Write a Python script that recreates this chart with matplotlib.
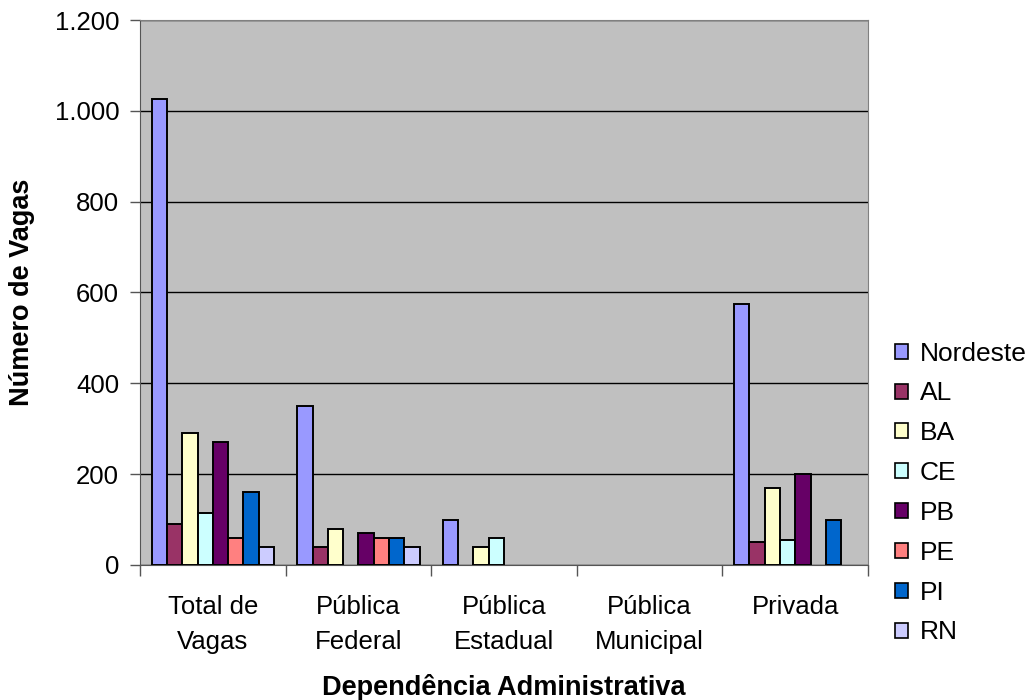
import numpy as np
import matplotlib.pyplot as plt
from matplotlib.ticker import FuncFormatter

plt.rcParams['font.family'] = ['Liberation Sans', 'DejaVu Sans']

categories = ['Total de\nVagas', 'Pública\nFederal', 'Pública\nEstadual', 'Pública\nMunicipal', 'Privada']
series_names = ['Nordeste', 'AL', 'BA', 'CE', 'PB', 'PE', 'PI', 'RN']
nordeste = [1025, 350, 100, 0, 575]
al = [90, 40, 0, 0, 50]
ba = [290, 80, 40, 0, 170]
ce = [115, 0, 60, 0, 55]
pb = [270, 70, 0, 0, 200]
pe = [60, 60, 0, 0, 0]
pi = [160, 60, 0, 0, 100]
rn = [40, 40, 0, 0, 0]
series = [nordeste, al, ba, ce, pb, pe, pi, rn]
colors = ['#9999FF', '#993366', '#FFFFCC', '#CCFFFF', '#660066', '#FF8080', '#0066CC', '#CCCCFF']

fig = plt.figure(figsize=(10.34, 7), dpi=100)
ax = fig.add_axes([0.1354, 0.1929, 0.7041, 0.7785])
ax.set_facecolor('#C0C0C0')

x = np.arange(len(categories))
n = len(series)
w = 0.84 / n
for i, (vals, c, name) in enumerate(zip(series, colors, series_names)):
    pos = x - 0.42 + w * (i + 0.5)
    v = np.array(vals, dtype=float)
    mask = v > 0
    ax.bar(pos[mask], v[mask], width=w, color=c, edgecolor='black', linewidth=1.4, zorder=3)
    # legend proxy
    ax.bar([np.nan], [np.nan], color=c, edgecolor='black', linewidth=1.2, label=name)

ax.set_xlim(-0.5, len(categories) - 0.5)
ax.set_ylim(0, 1200)
ax.set_yticks(np.arange(0, 1201, 200))
ax.yaxis.set_major_formatter(FuncFormatter(lambda v, p: f'{int(v):,}'.replace(',', '.')))
ax.yaxis.grid(True, color='black', linewidth=1.0, zorder=1)
ax.set_axisbelow(True)

ax.set_xticks(x)
ax.set_xticklabels(categories, fontsize=18.5, linespacing=1.6)
ax.tick_params(axis='x', length=0, pad=21.5)
ax.set_xticks(np.arange(-0.5, len(categories), 1), minor=True)
ax.tick_params(axis='x', which='minor', length=8, width=1, color='#555555', direction='out')
ax.tick_params(axis='y', labelsize=18.5, length=7, width=1, color='#555555', direction='out', pad=8)

for s in ['top', 'right']:
    ax.spines[s].set_color('#808080')
for s in ['left', 'bottom']:
    ax.spines[s].set_color('#555555')

ax.set_ylabel('Número de Vagas', fontsize=19.5, fontweight='bold', labelpad=14)
ax.set_xlabel('Dependência Administrativa', fontsize=19.5, fontweight='bold', labelpad=14)

leg = fig.legend(loc='upper left', bbox_to_anchor=(0.8656, 0.512), frameon=False,
                 fontsize=19, handlelength=0.5, handleheight=0.5, handletextpad=0.45,
                 labelspacing=0.6, borderpad=0, borderaxespad=0)

fig.savefig('out.png', dpi=100)
